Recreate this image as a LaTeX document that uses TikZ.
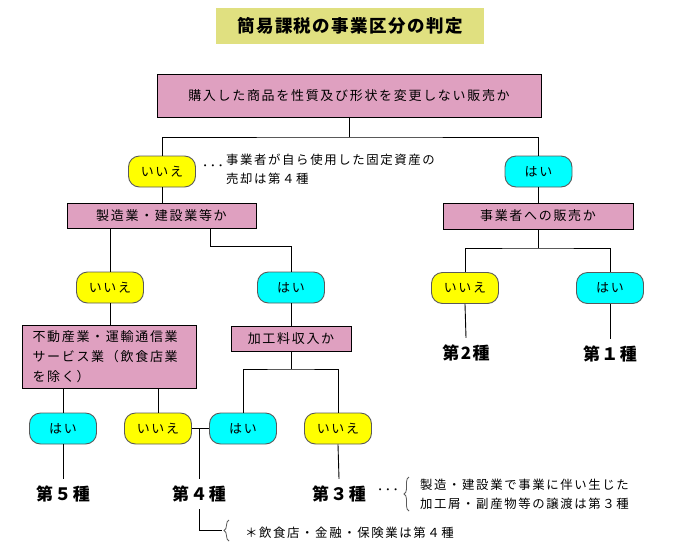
\documentclass[tikz,border=0pt]{standalone}
\usepackage{fontspec}
\setmainfont{Noto Sans CJK JP}
\newfontfamily\jp[LetterSpace=13]{Noto Sans CJK JP}
\newfontfamily\jpk[LetterSpace=8]{Noto Sans CJK JP}
\usetikzlibrary{decorations.pathreplacing}
\definecolor{qpink}{RGB}{223,160,192}
\definecolor{ttl}{RGB}{224,224,128}
\definecolor{ycol}{RGB}{255,255,0}
\definecolor{ccol}{RGB}{0,255,255}
\definecolor{edgegray}{RGB}{90,90,90}
\tikzset{
  qbox/.style={draw=black, fill=qpink, line width=0.9pt, inner sep=0pt,
    font=\jp\fontsize{13}{15}\selectfont},
  pill/.style={draw=edgegray, line width=0.9pt, rounded corners=11pt,
    minimum width=67pt, minimum height=31pt, inner sep=0pt,
    font=\jp\fontsize{13}{15}\selectfont},
  yesn/.style={pill, fill=ccol},
  non/.style={pill, fill=ycol},
  kind/.style={font=\jpk\bfseries\fontsize{17}{20}\selectfont, minimum height=30pt, inner sep=0pt},
  note/.style={font=\jp\fontsize{12.4}{19}\selectfont, inner sep=0pt, align=left},
  conn/.style={draw=black, line width=0.9pt},
  brc/.style={draw=edgegray, line width=0.8pt, decorate, decoration={brace, amplitude=5pt}}
}
\begin{document}
\begin{tikzpicture}[x=1pt,y=-1pt]
\useasboundingbox (0,0) rectangle (678,547);
% title
\node[fill=ttl, minimum width=268pt, minimum height=36pt, inner sep=0pt,
  font=\jpk\bfseries\fontsize{17.5}{20}\selectfont] (title) at (350,26) {簡易課税の事業区分の判定};
% questions
\node[qbox, minimum width=384pt, minimum height=43pt] (top) at (349,95.5) {購入した商品を性質及び形状を変更しない販売か};
\node[qbox, minimum width=189pt, minimum height=25pt] (mfg) at (161.5,215.5) {製造業・建設業等か};
\node[qbox, minimum width=190pt, minimum height=26pt] (biz) at (538,216) {事業者への販売か};
\node[qbox, minimum width=174pt, minimum height=63pt, align=left, text width=153pt,
  font=\jp\fontsize{13}{20}\selectfont] (re) at (109,356.5) {不動産業・運輸通信業\\サービス業（飲食店業\\を除く）};
\node[qbox, minimum width=120pt, minimum height=25pt] (proc) at (291,339) {加工料収入か};
% answers
\node[non] (no1) at (162,171.5) {いいえ};
\node[yesn] (yes1) at (538.5,171.5) {はい};
\node[non] (no2) at (110,287.5) {いいえ};
\node[yesn] (yes2) at (291,287.5) {はい};
\node[non] (no6) at (465,288) {いいえ};
\node[yesn] (yes6) at (610,288) {はい};
\node[yesn] (yes3) at (63,428.5) {はい};
\node[non] (no4) at (158,428.5) {いいえ};
\node[yesn] (yes4) at (243,428.5) {はい};
\node[non] (no5) at (338,428.5) {いいえ};
% kinds
\node[kind] (k5) at (63,494) {第５種};
\node[kind] (k4) at (199,494) {第４種};
\node[kind] (k3) at (339,494) {第３種};
\node[kind] (k2) at (466,353) {第2種};
\node[kind] (k1) at (610,354) {第１種};
% notes
\node[note, anchor=center] (dots1) at (213,168) {･･･};
\node[note, anchor=north west] (note1) at (226,154) {事業者が自ら使用した固定資産の\\売却は第４種};
\node[note, anchor=center] (dots3) at (388,492) {･･･};
\node[note, anchor=west] (note3) at (420,494) {製造・建設業で事業に伴い生じた\\加工屑・副産物等の譲渡は第３種};
\node[note, anchor=west] (note4) at (245,533) {＊飲食店・金融・保険業は第４種};
% junctions
\coordinate (j1) at (349,137);
\coordinate (j2) at (210,246);
\coordinate (j3) at (538,248);
\coordinate (j4) at (291,369);
\coordinate (j5) at (199,428.5);
\coordinate (j6) at (222,530);
% connectors
\draw[conn] (top.south) -- (j1);
\draw[conn] (no1.north) |- (j1) -| (yes1.north);
\draw[conn] (no1.south) -- (no1.south |- mfg.north);
\draw[conn] (yes1.south) -- (yes1.south |- biz.north);
\draw[conn] (mfg.south -| no2.north) -- (no2.north);
\draw[conn] (mfg.south -| j2) -- (j2) -| (yes2.north);
\draw[conn] (biz.south) -- (j3);
\draw[conn] (no6.north) |- (j3) -| (yes6.north);
\draw[conn] (no6.south) -- (k2.north);
\draw[conn] (yes6.south) -- (k1.north);
\draw[conn] (no2.south) -- (no2.south |- re.north);
\draw[conn] (yes2.south) -- (proc.north);
\draw[conn] (proc.south) -- (j4);
\draw[conn] (yes4.north) |- (j4) -| (no5.north);
\draw[conn] (re.south -| yes3.north) -- (yes3.north);
\draw[conn] (re.south -| no4.north) -- (no4.north);
\draw[conn] (no4.east) -- (yes4.west);
\draw[conn] (j5) -- (k4.north);
\draw[conn] (yes3.south) -- (k5.north);
\draw[conn] (no5.south) -- (k3.north);
\draw[conn] (k4.south) |- (j6);
% braces
\draw[brc] (409,511) -- (409,477);
\draw[brc] (229,541) -- (229,520);
\end{tikzpicture}
\end{document}
